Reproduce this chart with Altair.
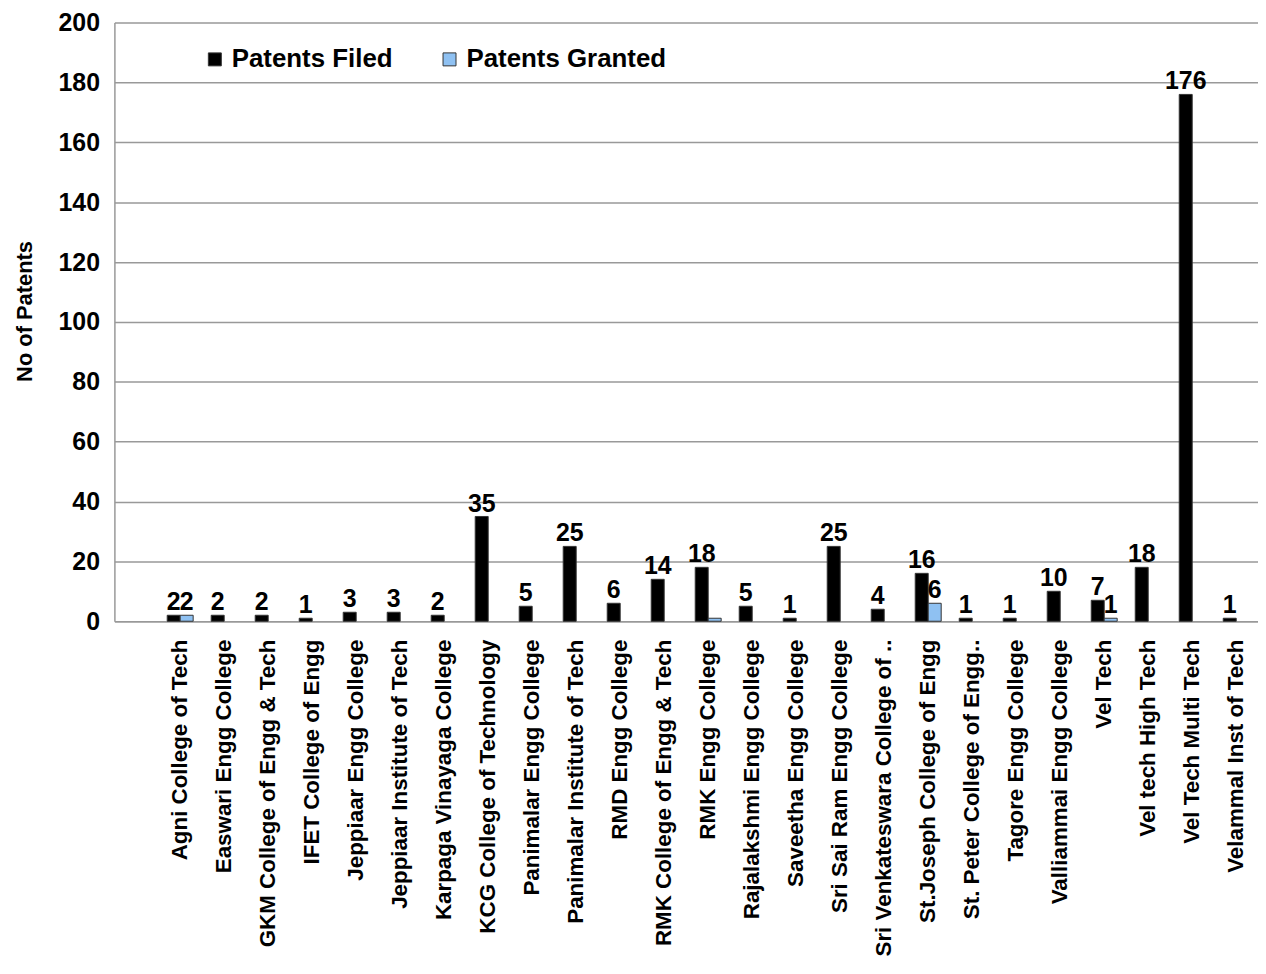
import altair as alt
import pandas as pd

colleges = [
    "Agni College of Tech", "Easwari Engg College", "GKM College of Engg  & Tech",
    "IFET College of Engg", "Jeppiaar Engg College", "Jeppiaar Institute of Tech",
    "Karpaga Vinayaga College", "KCG College of Technology", "Panimalar Engg College",
    "Panimalar Institute of Tech", "RMD Engg College", "RMK College of Engg & Tech",
    "RMK Engg College", "Rajalakshmi Engg College", "Saveetha Engg College",
    "Sri Sai Ram Engg College", "Sri Venkateswara College of ..", "St.Joseph College of Engg",
    "St. Peter College of Engg..", "Tagore Engg College", "Valliammai Engg College",
    "Vel Tech", "Vel tech High Tech", "Vel Tech Multi Tech", "Velammal Inst of Tech",
]
filed = [2, 2, 2, 1, 3, 3, 2, 35, 5, 25, 6, 14, 18, 5, 1, 25, 4, 16, 1, 1, 10, 7, 18, 176, 1]
granted = [2, 0, 0, 0, 0, 0, 0, 0, 0, 0, 0, 0, 1, 0, 0, 0, 0, 6, 0, 0, 0, 1, 0, 0, 0]
granted_labelled = [True] + [False] * 16 + [True] + [False] * 3 + [True] + [False] * 3
series = ["Patents Filed", "Patents Granted"]

rows = []
for c, f, g, gl in zip(colleges, filed, granted, granted_labelled):
    rows.append({"college": c, "series": series[0], "value": f, "label": str(f)})
    if g > 0:
        rows.append({"college": c, "series": series[1], "value": g,
                     "label": str(g) if gl else ""})
df = pd.DataFrame(rows)

FONT = "Liberation Sans"
domain = [""] + colleges

x = alt.X("college:N", sort=domain,
          scale=alt.Scale(domain=domain, paddingInner=0.41),
          axis=alt.Axis(title=None, labelAngle=270, labelAlign="right", labelBaseline="middle",
                        labelFont=FONT, labelFontSize=22.5, labelFontWeight="bold",
                        labelColor="black", labelLimit=400, labelPadding=18,
                        ticks=False, domainColor="#999999", domainWidth=1.5, grid=False))
xo = alt.XOffset("series:N", sort=series, scale=alt.Scale(domain=series))
y = alt.Y("value:Q", scale=alt.Scale(domain=[0, 200]),
          axis=alt.Axis(title="No of Patents", values=list(range(0, 201, 20)),
                        labelFont=FONT, labelFontSize=25, labelFontWeight="bold",
                        labelColor="black", labelPadding=15,
                        titleFont=FONT, titleFontSize=22, titleFontWeight="bold",
                        titleColor="black", titlePadding=22, titleY=290,
                        ticks=False, domainColor="#999999", domainWidth=1.5,
                        gridColor="#999999", gridWidth=1.5))

color = alt.Color("series:N", sort=series,
                  scale=alt.Scale(domain=series, range=["#000000", "#8fc1f2"]),
                  legend=alt.Legend(title=None, orient="none", direction="horizontal",
                                    legendX=88, legendY=24, symbolType="square",
                                    symbolSize=170, symbolStrokeColor="#333333",
                                    symbolStrokeWidth=1, symbolOpacity=1, labelLimit=400,
                                    labelFont=FONT, labelFontSize=26, labelFontWeight="bold",
                                    labelColor="black", columnPadding=44, labelOffset=4))

bars = alt.Chart(df).mark_bar(stroke="#333333", strokeWidth=1).encode(
    x=x, xOffset=xo, y=y, color=color)

text = alt.Chart(df).mark_text(font=FONT, fontSize=25, fontWeight="bold", color="black",
                               baseline="alphabetic", dy=-5).encode(
    x=x, xOffset=xo, y=y, text="label:N")

chart = alt.layer(bars, text).properties(
    width=1150, height=602, autosize="none",
    padding={"left": 107, "top": 12, "right": 0, "bottom": 340},
).configure_view(stroke=None)

chart.save("out.html", embed_options={"renderer": "svg", "actions": False})
